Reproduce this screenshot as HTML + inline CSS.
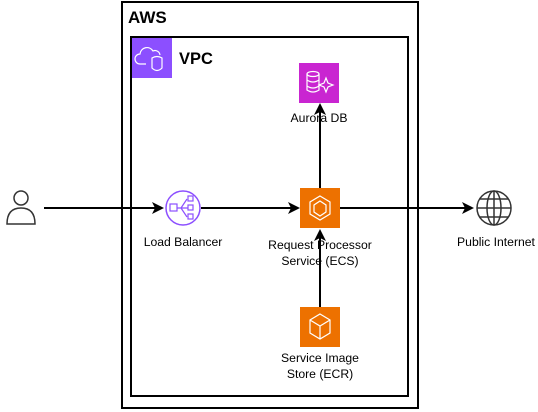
<!DOCTYPE html>
<html><head><style>body{margin:0;background:#fff}svg{display:block}text{font-family:"Liberation Sans",sans-serif;font-size:12.2px;fill:#000}</style></head>
<body>
<svg width="538" height="412" viewBox="0 0 538 412">
<rect x="122" y="2" width="296" height="406" fill="none" stroke="#000" stroke-width="2"/>
<text x="128" y="23" style="font-size:17px;font-weight:bold">AWS</text>
<rect x="131" y="37" width="277" height="359" fill="none" stroke="#000" stroke-width="2"/>
<rect x="132" y="38" width="40" height="40" fill="#8C4FFF"/>
<path d="M146 64h-6a5 5 0 0 1 0-10a7 7 0 0 1 13-3a5 5 0 0 1 7 4" fill="none" stroke="#fff" stroke-width="1.2"/>
<path d="M152 58q5-3 10 0v10q-5 5-10 0z" fill="none" stroke="#fff" stroke-width="1.2"/>
<text x="179" y="64" style="font-size:16.5px;font-weight:bold">VPC</text>
<!-- Aurora -->
<rect x="299" y="63" width="40" height="40" fill="#C925D1"/>
<ellipse cx="313" cy="74" rx="6" ry="2.5" fill="none" stroke="#fff" stroke-width="1.2"/>
<path d="M307 74v16q6 4 12 0v-16M307 80q6 4 12 0M307 86q6 4 12 0" fill="none" stroke="#fff" stroke-width="1.2"/>
<path d="M326 78l2 5 5 2-5 2-2 5-2-5-5-2 5-2z" fill="none" stroke="#fff" stroke-width="1.2"/>
<text x="319" y="122" text-anchor="middle">Aurora DB</text>
<!-- ECS -->
<rect x="300" y="188" width="40" height="40" fill="#ED7100"/>
<path d="M320 196l10 6v12l-10 6-10-6v-12z" fill="none" stroke="#fff" stroke-width="1.2"/>
<path d="M320 201l6 4v7l-6 4-6-4v-7z" fill="none" stroke="#fff" stroke-width="1.2"/>
<text x="320" y="249" text-anchor="middle">Request Processor</text>
<text x="320" y="265" text-anchor="middle">Service (ECS)</text>
<!-- ECR -->
<rect x="300" y="307" width="40" height="40" fill="#ED7100"/>
<path d="M320 314l10 6v13l-10 6-10-6v-13z M320 326v13 M310 320l10 6 10-6" fill="none" stroke="#fff" stroke-width="1.2"/>
<text x="320" y="362" text-anchor="middle">Service Image</text>
<text x="320" y="378" text-anchor="middle">Store (ECR)</text>
<!-- LB -->
<circle cx="183" cy="208" r="17" fill="none" stroke="#8C4FFF" stroke-width="1.5"/>
<rect x="170" y="204" width="7" height="7" fill="none" stroke="#8C4FFF" stroke-width="1.2"/>
<rect x="188" y="196" width="5" height="5" fill="none" stroke="#8C4FFF" stroke-width="1.2"/>
<rect x="188" y="205" width="5" height="5" fill="none" stroke="#8C4FFF" stroke-width="1.2"/>
<rect x="188" y="214" width="5" height="5" fill="none" stroke="#8C4FFF" stroke-width="1.2"/>
<path d="M177 208h11M181 208l6-9M181 208l6 9" fill="none" stroke="#8C4FFF" stroke-width="1.2"/>
<text x="183" y="246" text-anchor="middle">Load Balancer</text>
<!-- user -->
<circle cx="21" cy="198" r="7" fill="none" stroke="#333" stroke-width="1.5"/>
<path d="M7 224q0-16 14-16q14 0 14 16z" fill="none" stroke="#333" stroke-width="1.5"/>
<!-- globe -->
<g fill="none" stroke="#333" stroke-width="1.5">
<circle cx="494" cy="208" r="17"/>
<ellipse cx="494" cy="208" rx="7" ry="17"/>
<path d="M494 191v34M477 208h34M480 199h28M480 217h28"/>
</g>
<text x="496" y="246" text-anchor="middle">Public Internet</text>
<!-- connectors -->
<g stroke="#000" stroke-width="2" fill="none">
<path d="M44 208H156"/><path d="M201 208H292"/><path d="M340 208H466"/>
<path d="M320 188V111"/><path d="M320 307V236"/>
</g>
<g fill="#000">
<path d="M164 208l-12-6 3 6-3 6z"/>
<path d="M300 208l-12-6 3 6-3 6z"/>
<path d="M474 208l-12-6 3 6-3 6z"/>
<path d="M320 103l-6 12 6-3 6 3z"/>
<path d="M320 229l-6 12 6-3 6 3z"/>
</g>
</svg>
</body></html>
